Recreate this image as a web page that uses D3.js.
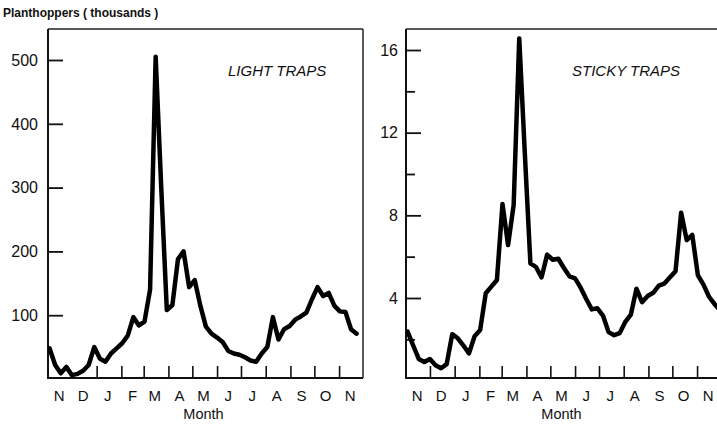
<!DOCTYPE html>
<html>
<head>
<meta charset="utf-8">
<script src="https://cdn.jsdelivr.net/npm/d3@7/dist/d3.min.js"></script>
<style>
  html, body { margin: 0; padding: 0; background: #fff; }
  svg { display: block; }
  text { font-family: "Liberation Sans", Arial, sans-serif; fill: #111; }
</style>
</head>
<body>
<svg id="chart" width="717" height="424"></svg>
<script>
// Weekly trap catches from early November through the following November.
const startDate = new Date(1977, 10, 3);   // first weekly sample
const monthLabels = ["N", "D", "J", "F", "M", "A", "M", "J", "J", "A", "S", "O", "N"];

// Light traps: planthoppers caught per week, in thousands
const lightTraps = [
  48, 22, 9, 19, 6, 8, 13, 22, 50, 32,
  27, 40, 48, 56, 68, 97, 84, 90, 140, 505,
  300, 108, 116, 188, 200, 144, 155, 115, 82, 71,
  65, 58, 44, 40, 38, 34, 29, 27, 40, 50,
  97, 62, 78, 83, 93, 98, 104, 125, 144, 130,
  135, 115, 106, 105, 78, 71
];

// Sticky traps: planthoppers caught per week, in thousands
const stickyTraps = [
  2.37, 1.7, 1.05, 0.9, 1.05, 0.75, 0.6, 0.8, 2.25, 2.05,
  1.7, 1.32, 2.15, 2.45, 4.23, 4.55, 4.87, 8.55, 6.56, 8.5,
  16.56, 11.0, 5.68, 5.5, 5.0, 6.1, 5.85, 5.9, 5.45, 5.05,
  4.95, 4.5, 3.95, 3.45, 3.5, 3.15, 2.35, 2.2, 2.3, 2.85,
  3.2, 4.45, 3.8, 4.1, 4.25, 4.6, 4.7, 5.0, 5.3, 8.13,
  6.8, 7.05, 5.1, 4.65, 4.06, 3.7, 3.4
];

const lightTicks = [100, 200, 300, 400, 500];
const stickyMajorTicks = [4, 8, 12, 16];
const stickyMinorTicks = [2, 6, 10, 14];

const svg = d3.select("#chart");

const periodStart = new Date(1977, 10, 1);
const periodEnd = new Date(1978, 11, 1);
const monthStarts = d3.timeMonth.range(new Date(1977, 11, 1), new Date(1978, 10, 2));
const monthMids = d3.timeMonth.range(periodStart, periodEnd).map(d => d3.timeDay.offset(d, 14));

const weekDate = i => d3.timeDay.offset(startDate, 7 * i);

// Title above the left axis
svg.append("text")
  .attr("x", 3).attr("y", 17)
  .attr("font-size", 12).attr("font-weight", "bold")
  .text("Planthoppers ( thousands )");

function panel(opts) {
  const { left, right, values, yScale, major, minor, title, titleX, labelRight, boxRight, skipTicks } = opts;
  const top = 29, bottom = 378;
  const x = d3.scaleTime().domain([periodStart, periodEnd]).range([left, left + 315]);

  const g = svg.append("g");

  // frame: heavy left and bottom axes, lighter top / right edge
  g.append("line").attr("x1", left).attr("x2", left).attr("y1", top).attr("y2", bottom + 1)
    .attr("stroke", "#111").attr("stroke-width", 2);
  g.append("line").attr("x1", left - 1).attr("x2", right).attr("y1", bottom).attr("y2", bottom)
    .attr("stroke", "#111").attr("stroke-width", 2);
  g.append("line").attr("x1", left).attr("x2", right).attr("y1", top).attr("y2", top)
    .attr("stroke", "#222").attr("stroke-width", 1.5);
  if (boxRight) {
    g.append("line").attr("x1", right).attr("x2", right).attr("y1", top).attr("y2", bottom)
      .attr("stroke", "#222").attr("stroke-width", 1.5);
  }

  // y ticks pointing inward
  const yAxis = d3.axisRight(yScale).tickValues(major).tickSize(15).tickFormat("");
  const ya = g.append("g").attr("transform", `translate(${left},0)`).call(yAxis);
  ya.select(".domain").remove();
  ya.selectAll(".tick line").attr("stroke", "#111").attr("stroke-width", 1.8);
  if (minor.length) {
    const ym = g.append("g").attr("transform", `translate(${left},0)`)
      .call(d3.axisRight(yScale).tickValues(minor).tickSize(9).tickFormat(""));
    ym.select(".domain").remove();
    ym.selectAll(".tick line").attr("stroke", "#111").attr("stroke-width", 1.8);
  }
  g.selectAll(".ylab").data(major).join("text")
    .attr("x", labelRight).attr("y", d => yScale(d))
    .attr("dy", "0.36em").attr("text-anchor", "end")
    .attr("font-size", 16)
    .text(d => d);

  // month boundary ticks pointing upward
  const xa = g.append("g").attr("transform", `translate(0,${bottom})`)
    .call(d3.axisTop(x).tickValues(monthStarts.slice(skipTicks)).tickSize(12).tickFormat(""));
  xa.select(".domain").remove();
  xa.selectAll(".tick line").attr("stroke", "#111").attr("stroke-width", 1.6);

  g.selectAll(".mlab").data(monthMids).join("text")
    .attr("x", d => x(d)).attr("y", 401)
    .attr("text-anchor", "middle").attr("font-size", 15)
    .text((d, i) => monthLabels[i]);
  g.append("text")
    .attr("x", x(monthMids[6])).attr("y", 419)
    .attr("text-anchor", "middle").attr("font-size", 14.5)
    .text("Month");

  g.append("text")
    .attr("x", titleX).attr("y", 76)
    .attr("font-size", 15).attr("font-style", "italic")
    .text(title);

  const clipId = "clip-" + left;
  svg.append("clipPath").attr("id", clipId)
    .append("rect").attr("x", left).attr("y", top).attr("width", right - left).attr("height", bottom - top);

  const line = d3.line()
    .x((d, i) => x(weekDate(i)))
    .y(d => yScale(d));
  g.append("path")
    .datum(values)
    .attr("clip-path", `url(#${clipId})`)
    .attr("fill", "none")
    .attr("stroke", "#000")
    .attr("stroke-width", 4.5)
    .attr("stroke-linejoin", "round")
    .attr("stroke-linecap", "round")
    .attr("d", line);
}

panel({
  left: 48, right: 363, values: lightTraps,
  yScale: d3.scaleLinear().domain([0, 500]).range([379, 60]),
  major: lightTicks, minor: [], title: "LIGHT TRAPS", titleX: 228,
  labelRight: 38, boxRight: true, skipTicks: 1
});

panel({
  left: 406, right: 717, values: stickyTraps,
  yScale: d3.scaleLinear().domain([4, 16]).range([298, 50]),
  major: stickyMajorTicks, minor: stickyMinorTicks, title: "STICKY TRAPS", titleX: 572,
  labelRight: 398, boxRight: false, skipTicks: 0
});
</script>
</body>
</html>
